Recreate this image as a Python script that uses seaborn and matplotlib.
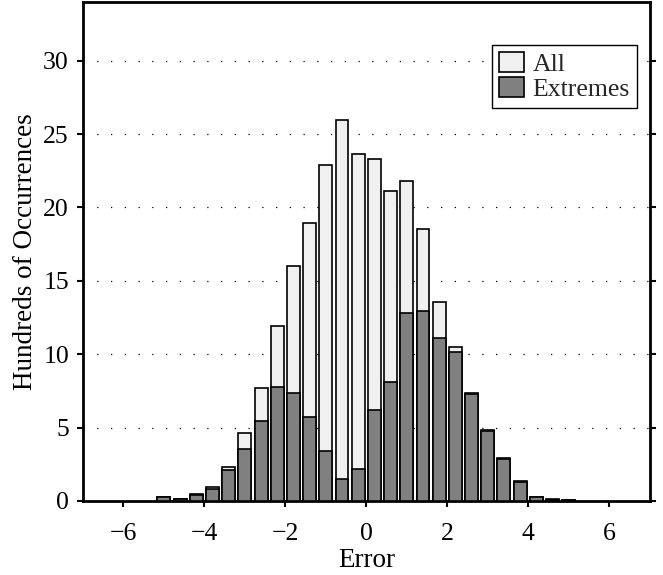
import matplotlib
matplotlib.use("Agg")
import matplotlib.pyplot as plt
import seaborn as sns
import pandas as pd
import numpy as np

centers = [-5.0, -4.6, -4.2, -3.8, -3.4, -3.0, -2.6, -2.2, -1.8, -1.4, -1.0, -0.6, -0.2,
           0.2, 0.6, 1.0, 1.4, 1.8, 2.2, 2.6, 3.0, 3.4, 3.8, 4.2, 4.6, 5.0]
all_vals = [0.25, 0.16, 0.45, 0.93, 2.34, 4.6, 7.71, 11.95, 16.0, 18.96, 22.88, 25.96, 23.65,
            23.29, 21.13, 21.79, 18.53, 13.58, 10.52, 7.35, 4.83, 2.9, 1.33, 0.26, 0.11, 0.09]
extreme_vals = [0.24, 0.15, 0.43, 0.83, 2.11, 3.54, 5.42, 7.76, 7.35, 5.74, 3.40, 1.50, 2.18,
                6.19, 8.1, 12.79, 12.95, 11.13, 10.16, 7.28, 4.80, 2.86, 1.30, 0.24, 0.10, 0.08]
series_labels = ["All", "Extremes"]
xticks = [-6, -4, -2, 0, 2, 4, 6]
yticks = [0, 5, 10, 15, 20, 25, 30]

sns.set_theme(style="white")
plt.rcParams["font.family"] = ["Liberation Serif", "DejaVu Serif"]
plt.rcParams["axes.unicode_minus"] = True

fig = plt.figure(figsize=(6.63, 5.75), dpi=100)
ax = fig.add_axes([0.125, 0.1287, 0.855, 0.8678])

df = pd.DataFrame({"x": centers, "all": all_vals, "ext": extreme_vals})

sns.barplot(data=df, x="x", y="all", native_scale=True, width=0.8, color="#f0f0f0",
            saturation=1, edgecolor="black", linewidth=1.2, errorbar=None, ax=ax,
            label=series_labels[0], zorder=2)
sns.barplot(data=df, x="x", y="ext", native_scale=True, width=0.8, color="#808080",
            saturation=1, edgecolor="black", linewidth=1.2, errorbar=None, ax=ax,
            label=series_labels[1], zorder=3)

ax.set_xlim(-7, 7)
ax.set_ylim(0, 34)
ax.set_xticks(xticks)
ax.set_yticks(yticks)
ax.set_xticklabels([f"{t}".replace("-", "\u2212") for t in xticks])
ax.set_yticklabels([str(t) for t in yticks])

for y in yticks[1:]:
    ax.axhline(y, color="black", linewidth=0.9, linestyle=(0, (1, 10)), zorder=1)

for s in ax.spines.values():
    s.set_visible(True)
    s.set_color("black")
    s.set_linewidth(2.0)

ax.tick_params(axis="both", which="both", direction="out", length=4, width=1.5,
               colors="black", labelsize=18.5, bottom=True, left=True, right=True, top=False,
               labelcolor="black")
ax.tick_params(axis="x", pad=12)
ax.tick_params(axis="y", pad=6)
ax.set_xlabel("Error", fontsize=19.5, color="black", labelpad=2)
ax.set_ylabel("Hundreds of Occurrences", fontsize=19.5, color="black", labelpad=4)

leg = ax.legend(loc="upper right", bbox_to_anchor=(0.977, 0.914), fontsize=18.5,
                frameon=True, fancybox=False, framealpha=1, edgecolor="black",
                handlelength=0.97, handleheight=0.8, handletextpad=0.35,
                borderpad=0.27, labelspacing=0.05, borderaxespad=0)
leg.get_frame().set_linewidth(1.0)
leg.set_zorder(5)

fig.savefig("out.png", dpi=100)
